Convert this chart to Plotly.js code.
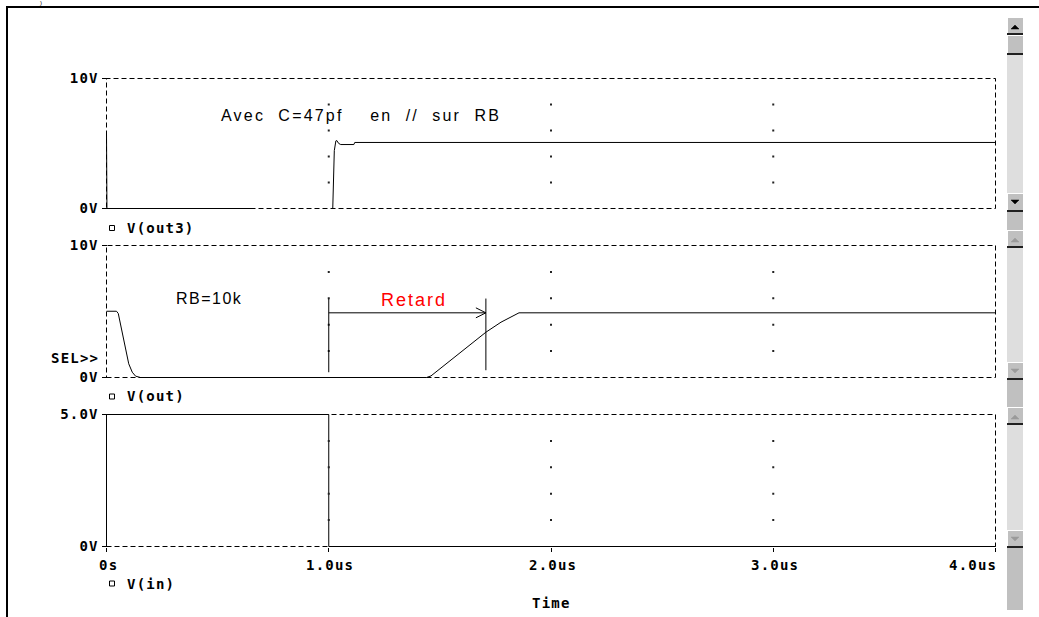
<!DOCTYPE html>
<html><head><meta charset="utf-8">
<script src="https://cdn.plot.ly/plotly-3.0.1.min.js"></script>
<style>html,body{margin:0;padding:0;background:#fff;}#chart{width:1039px;height:617px;}</style>
</head><body><div id="chart"></div>
<script>
// ---------------- data ----------------
// time in microseconds, voltages in volts
const tOut3 = [0, 0.002, 0.662, null, 1.018, 1.020, 1.025, 1.032, 1.036, 1.045, 1.054, 1.113, 1.117, 4.0];
const vOut3 = [5.77, 0, 0, null, 0, 1.9, 4.45, 5.2, 5.23, 5.0, 4.92, 4.92, 5.08, 5.08];

const tOut = [0, 0.045, 0.053, 0.100, 0.116, 0.131, 0.153, 1.44, 1.46, 1.707, 1.775, 1.856, 4.0];
const vOut = [5.02, 5.02, 4.85, 1.04, 0.40, 0.10, 0, 0, 0.12, 3.43, 4.19, 4.90, 4.90];

const tIn = [0, 0, 1.0, 1.0, 4.0];
const vIn = [0, 5, 5, 0, 0];

// cursors of the "Retard" measurement (middle plot)
const cursorT  = [1.0, 1.707];
const cursorLo = [0.40, 0.55];
const cursorHi = [5.96, 5.98];
const arrowV   = 4.90;

// ticks / grid
const xTickVals = [0, 1, 2, 3, 4];
const xTickText = ['0s', '1.0us', '2.0us', '3.0us', '4.0us'];
const yTickVals10 = [0, 10];
const yTickText10 = ['0V', '10V'];
const yTickVals5 = [0, 5];
const yTickText5 = ['0V', '5.0V'];
const gridT = [1, 2, 3];
const gridV10 = [2, 4, 6, 8];
const gridV5 = [1, 2, 3, 4];
const traceNames = ['V(out3)', 'V(out)', 'V(in)'];

// ---------------- layout constants ----------------
const W = 1039, H = 617;
const X0 = 106.5, X1 = 995.5, PAD = 2;
const panels = [
  {top: 78.5,  bot: 208.5, vmax: 10, tv: yTickVals10, tt: yTickText10, gv: gridV10, legendY: 228},
  {top: 245.5, bot: 377.5, vmax: 10, tv: yTickVals10, tt: yTickText10, gv: gridV10, legendY: 396.5},
  {top: 414.5, bot: 546.5, vmax: 5,  tv: yTickVals5,  tt: yTickText5,  gv: gridV5,  legendY: 583.5}
];
const MONO = 'DejaVu Sans Mono';
const SANS = 'Liberation Sans, Arial, sans-serif';
const px2x = p => p / W;
const px2y = p => 1 - p / H;
const ls = (t, s) => '<span style="letter-spacing:' + s + 'px">' + t + '</span>';

const pxPerUs = (X1 - X0) / 4;
const xDomain = [(X0 - PAD) / W, (X1 + PAD) / W];
const xRange = [-PAD / pxPerUs, 4 + PAD / pxPerUs];

const layout = {
  width: W, height: H, margin: {l: 0, r: 0, t: 0, b: 0},
  paper_bgcolor: '#fff', plot_bgcolor: 'rgba(0,0,0,0)', showlegend: false,
  shapes: [], annotations: []
};

const tickFont = {family: MONO, size: 14, color: '#000', weight: 'bold'};

panels.forEach((p, i) => {
  const n = i === 0 ? '' : String(i + 1);
  const pxPerV = (p.bot - p.top) / p.vmax;
  p.pxPerV = pxPerV;
  layout['yaxis' + n] = {
    domain: [1 - (p.bot + PAD) / H, 1 - (p.top - PAD) / H],
    range: [-PAD / pxPerV, p.vmax + PAD / pxPerV],
    anchor: 'free', position: X0 / W,
    tickvals: p.tv, ticktext: p.tt.map(t => ls(t, 1.2)),
    ticks: 'outside', ticklen: 5, tickwidth: 1, tickcolor: '#000',
    tickfont: tickFont, ticklabelstandoff: 0,
    showgrid: false, zeroline: false, showline: false, fixedrange: true
  };
  const isBottom = i === panels.length - 1;
  const xa = {
    domain: xDomain, range: xRange,
    anchor: isBottom ? 'free' : 'y' + n,
    tickvals: xTickVals, showticklabels: false,
    ticks: isBottom ? 'outside' : '', ticklen: 4, tickwidth: 1, tickcolor: '#000',
    showgrid: false, zeroline: false, showline: false, fixedrange: true
  };
  if (isBottom) xa.position = px2y(p.bot);
  layout['xaxis' + n] = xa;
  // dashed frame
  layout.shapes.push({type: 'rect', xref: 'x' + n, yref: 'y' + n, x0: 0, x1: 4, y0: 0, y1: p.vmax,
    line: {color: '#000', width: 1, dash: '5px,3px'}, layer: 'below'});
  // legend square + name
  layout.shapes.push({type: 'rect', xref: 'paper', yref: 'paper',
    x0: px2x(109.5), x1: px2x(114.5), y0: px2y(p.legendY - 2.5), y1: px2y(p.legendY + 2.5),
    line: {color: '#000', width: 1}});
  layout.annotations.push({text: ls(traceNames[i], 1.2), xref: 'paper', yref: 'paper',
    x: px2x(126), y: px2y(p.legendY), xanchor: 'left', yanchor: 'middle', showarrow: false,
    borderpad: 0, font: tickFont});
});

// x tick labels under the bottom plot
xTickVals.forEach((v, i) => {
  const last = i === xTickVals.length - 1;
  layout.annotations.push({text: ls(xTickText[i], 1.2), xref: 'x3', yref: 'paper', x: v, y: px2y(565),
    xanchor: last ? 'right' : 'center', xshift: last ? 2 : 1.5, yanchor: 'middle', showarrow: false,
    borderpad: 0, font: tickFont});
});
layout.annotations.push({text: ls('Time', 1.2), xref: 'paper', yref: 'paper', x: px2x(551), y: px2y(603),
  xanchor: 'center', yanchor: 'middle', showarrow: false, borderpad: 0, font: tickFont});
layout.annotations.push({text: ls('SEL&gt;&gt;', 1.2), xref: 'paper', yref: 'paper', x: px2x(100), y: px2y(358),
  xanchor: 'right', yanchor: 'middle', showarrow: false, borderpad: 0, font: tickFont});

// comments in the plots
const NB = '\u00A0';
layout.annotations.push({text: ls('Avec' + NB + NB + 'C=47pf' + NB + NB + NB + NB + 'en' + NB + NB + '//' + NB + NB + 'sur' + NB + NB + 'RB', 2.2),
  xref: 'x', yref: 'y', x: (220 - X0) / pxPerUs, y: (208 - 115) / panels[0].pxPerV,
  xanchor: 'left', yanchor: 'middle', showarrow: false, borderpad: 0,
  font: {family: SANS, size: 16, color: '#000'}});
layout.annotations.push({text: ls('RB=10k', 1.5),
  xref: 'x2', yref: 'y2', x: (175 - X0) / pxPerUs, y: (377 - 298.5) / panels[1].pxPerV,
  xanchor: 'left', yanchor: 'middle', showarrow: false, borderpad: 0,
  font: {family: SANS, size: 16, color: '#000'}});
layout.annotations.push({text: ls('Retard', 2),
  xref: 'x2', yref: 'y2', x: (cursorT[0] + cursorT[1]) / 2 + 0.03, y: (377 - 300) / panels[1].pxPerV,
  xanchor: 'center', yanchor: 'middle', showarrow: false, borderpad: 0,
  font: {family: SANS, size: 18, color: '#ff0000'}});

// cursors + arrow
cursorT.forEach((t, i) => {
  layout.shapes.push({type: 'line', xref: 'x2', yref: 'y2', x0: t, x1: t, y0: cursorLo[i], y1: cursorHi[i],
    line: {color: '#000', width: 1}});
});
layout.shapes.push({type: 'line', xref: 'x2', yref: 'y2', x0: cursorT[0], x1: cursorT[1], y0: arrowV, y1: arrowV,
  line: {color: '#000', width: 1}});
{
  const dt = 10 / pxPerUs, dv = 5 / panels[1].pxPerV, t = cursorT[1];
  layout.shapes.push({type: 'path', xref: 'x2', yref: 'y2',
    path: 'M' + (t - dt) + ',' + (arrowV + dv) + ' L' + t + ',' + arrowV + ' L' + (t - dt) + ',' + (arrowV - dv),
    line: {color: '#000', width: 1}});
}

// scrollbars (window chrome)
function rectPx(x0, y0, x1, y1, fill, lc, lw) {
  layout.shapes.push({type: 'rect', xref: 'paper', yref: 'paper', x0: px2x(x0), x1: px2x(x1), y0: px2y(y1), y1: px2y(y0),
    fillcolor: fill, line: {color: lc || fill, width: lw === undefined ? 0 : lw}, layer: 'above'});
}
function linePx(x0, y0, x1, y1, c, w) {
  layout.shapes.push({type: 'line', xref: 'paper', yref: 'paper', x0: px2x(x0), x1: px2x(x1), y0: px2y(y0), y1: px2y(y1),
    line: {color: c, width: w}, layer: 'above'});
}
function triPx(cx, cy, up, c) {
  const pts = up ? [[cx - 4, cy + 2], [cx + 4, cy + 2], [cx, cy - 2]] : [[cx - 4, cy - 2], [cx + 4, cy - 2], [cx, cy + 2]];
  layout.shapes.push({type: 'path', xref: 'paper', yref: 'paper',
    path: 'M' + pts.map(q => px2x(q[0]) + ',' + px2y(q[1])).join(' L') + ' Z',
    fillcolor: c, line: {color: c, width: 0.5}, layer: 'above'});
}
function button(y0, y1) {
  rectPx(1007, y0, 1023, y1, '#c0c0c0');
  linePx(1007, y0 + 0.5, 1023, y0 + 0.5, '#ffffff', 1);
  linePx(1007.5, y0, 1007.5, y1, '#ffffff', 1);
  linePx(1007, y1 - 1, 1023, y1 - 1, '#202020', 2);
}
const SB = 1007, SB2 = 1023;
const bars = [
  {up: 17, thumb: [35, 55], down: 193, end: 212, fillEnd: 230, arrow: '#000'},
  {up: 230, thumb: null, down: 362, end: 380, fillEnd: 407, arrow: '#9a9a9a'},
  {up: 407, thumb: null, down: 530, end: 548, fillEnd: 610, arrow: '#9a9a9a'}
];
bars.forEach(b => {
  rectPx(SB, b.up + 18, SB2, b.down, '#dedede');
  button(b.up, b.up + 18);
  triPx(1015, b.up + 10, true, b.arrow);
  if (b.thumb) button(b.thumb[0], b.thumb[1]);
  button(b.down, b.end);
  triPx(1015, b.down + 9, false, b.arrow);
  rectPx(SB, b.end, SB2, b.fillEnd, '#c0c0c0');
});

// window frame
linePx(6, 7, 1039, 7, '#000', 2);
linePx(7, 7, 7, 617, '#000', 2);
layout.annotations.push({text: ')', xref: 'paper', yref: 'paper', x: px2x(41), y: px2y(3),
  xanchor: 'center', yanchor: 'middle', showarrow: false, borderpad: 0,
  font: {family: SANS, size: 6, color: '#000'}});

// ---------------- traces ----------------
const lineStyle = {color: '#000', width: 1};
const data = [
  {x: tOut3, y: vOut3, xaxis: 'x', yaxis: 'y', name: traceNames[0], mode: 'lines', line: lineStyle, connectgaps: false, hoverinfo: 'skip'},
  {x: tOut, y: vOut, xaxis: 'x2', yaxis: 'y2', name: traceNames[1], mode: 'lines', line: lineStyle, hoverinfo: 'skip'},
  {x: tIn, y: vIn, xaxis: 'x3', yaxis: 'y3', name: traceNames[2], mode: 'lines', line: lineStyle, hoverinfo: 'skip'}
];
panels.forEach((p, i) => {
  const n = i === 0 ? '' : String(i + 1);
  const gx = [], gy = [];
  gridT.forEach(t => p.gv.forEach(v => { gx.push(t); gy.push(v); }));
  data.push({x: gx, y: gy, xaxis: 'x' + n, yaxis: 'y' + n, mode: 'markers', hoverinfo: 'skip',
    marker: {size: 2, color: '#222', symbol: 'square', line: {width: 0}}});
});

Plotly.newPlot('chart', data, layout, {displayModeBar: false, staticPlot: true});
</script>
</body></html>
